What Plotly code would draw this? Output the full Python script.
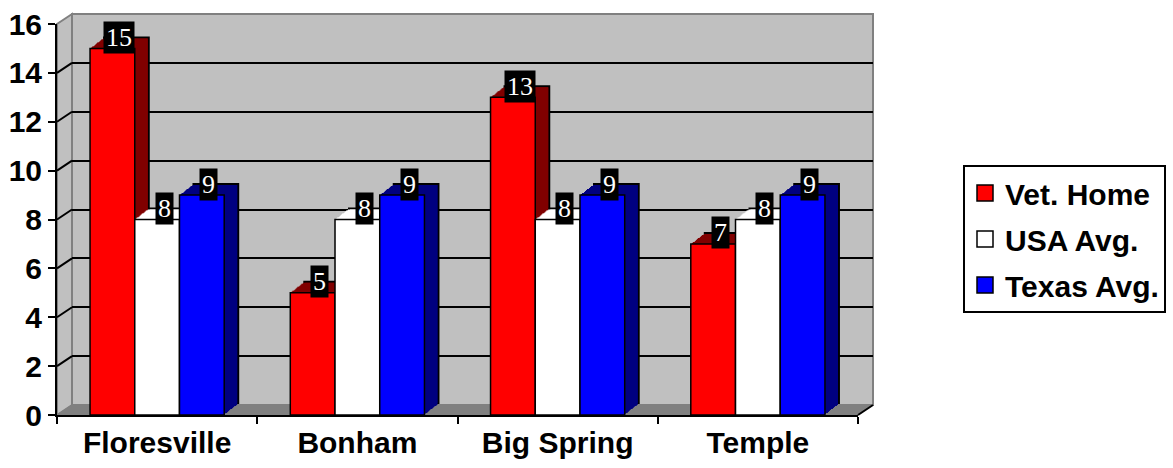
import plotly.graph_objects as go

# ---------------- data ----------------
categories = ["Floresville", "Bonham", "Big Spring", "Temple"]
series_names = ["Vet. Home", "USA Avg.", "Texas Avg."]
vet_home = [15, 5, 13, 7]
usa_avg = [8, 8, 8, 8]
texas_avg = [9, 9, 9, 9]
y_ticks = [0, 2, 4, 6, 8, 10, 12, 14, 16]

series_values = [vet_home, usa_avg, texas_avg]
front_colors = ["#FF0000", "#FFFFFF", "#0000FF"]
side_colors = ["#800000", "#FFFFFF", "#000080"]

# ---------------- geometry (pixels) ----------------
W, H = 1173, 468
L, B = 57, 53                # front plot origin
PW, PH = 801, 391            # front plot size
WALL_DX, WALL_DY = 15, 10    # back wall offset
BAR_DX, BAR_DY = 14, 11      # bar depth
PAPER_W = PW + max(WALL_DX, BAR_DX)
PAPER_H = PH + max(WALL_DY, BAR_DY)
T = H - B - PAPER_H
R = W - L - PAPER_W
BARGAP = 0.33
YMAX = 16

def xdom(ox):
    return [ox / PAPER_W, (ox + PW) / PAPER_W]

def ydom(oy):
    return [oy / PAPER_H, (oy + PH) / PAPER_H]

fig = go.Figure()
layout = {}

# back wall axes (gridlines)
fig.add_trace(go.Scatter(x=[0], y=[0], xaxis="x", yaxis="y", mode="markers",
                         marker=dict(opacity=0), showlegend=False, hoverinfo="skip"))
layout["xaxis"] = dict(domain=xdom(WALL_DX), anchor="y", range=[0, 1], visible=False, fixedrange=True)
layout["yaxis"] = dict(domain=ydom(WALL_DY), anchor="x", range=[0, YMAX], showgrid=True,
                       gridcolor="black", gridwidth=2, tickvals=y_ticks[1:-1],
                       showticklabels=False, ticks="", showline=False, zeroline=False,
                       fixedrange=True)

N = BAR_DX
layers = list(range(N, -1, -1))  # back -> front
axid = 2
front_id = None
for k in layers:
    ox = round(k * BAR_DX / N)
    oy = round(k * BAR_DY / N)
    xa = "x%d" % axid
    ya = "y%d" % axid
    is_front = (k == 0)
    is_back = (k == N)
    for j, (name, vals) in enumerate(zip(series_names, series_values)):
        if is_front:
            color, lw = front_colors[j], 1.5
        elif is_back:
            color, lw = side_colors[j], 2
        else:
            color, lw = side_colors[j], 0
        fig.add_trace(go.Bar(
            x=categories, y=vals, name=name, xaxis=xa, yaxis=ya,
            marker=dict(color=color, line=dict(color="black", width=lw)),
            showlegend=False, hoverinfo="skip" if not is_front else None,
        ))
    xkey = "xaxis%d" % axid
    ykey = "yaxis%d" % axid
    if is_front:
        front_id = axid
        layout[xkey] = dict(domain=xdom(ox), anchor=ya, type="category", range=[-0.5, 3.5],
                            showline=True, linecolor="black", linewidth=2, ticks="outside",
                            tickson="boundaries", ticklen=7, tickwidth=2, tickcolor="black",
                            tickfont=dict(family="Liberation Sans, Arial", size=30,
                                          color="black", weight="bold"),
                            showgrid=False, fixedrange=True)
        layout[ykey] = dict(domain=ydom(oy), anchor=xa, range=[0, YMAX], tickvals=y_ticks,
                            showline=True, linecolor="black", linewidth=2, ticks="outside",
                            ticklen=7, tickwidth=2, tickcolor="black",
                            tickfont=dict(family="Liberation Sans, Arial", size=30,
                                          color="black", weight="bold"),
                            showgrid=False, zeroline=False, fixedrange=True)
    else:
        layout[xkey] = dict(domain=xdom(ox), anchor=ya, type="category", range=[-0.5, 3.5],
                            visible=False, fixedrange=True)
        layout[ykey] = dict(domain=ydom(oy), anchor=xa, range=[0, YMAX], visible=False,
                            fixedrange=True)
    axid += 1

fx, fy = "x%d" % front_id, "y%d" % front_id

# legend entries (square swatches)
for j, name in enumerate(series_names):
    fig.add_trace(go.Scatter(
        x=[None], y=[None], xaxis=fx, yaxis=fy, mode="markers", name=name,
        legendgroup=name,
        marker=dict(symbol="square", size=16, color=front_colors[j],
                    line=dict(color="black", width=1.5)),
        showlegend=True))

# ---------------- decorations: walls and floor ----------------
def px(xpix):
    return (xpix - L) / PAPER_W

def py(ypix_from_bottom):
    return ypix_from_bottom / PAPER_H

unit = PH / YMAX
shapes = []
# back wall
shapes.append(dict(type="rect", xref="paper", yref="paper",
                   x0=px(L + WALL_DX), x1=px(L + WALL_DX + PW), y0=py(WALL_DY), y1=py(WALL_DY + PH),
                   fillcolor="#C0C0C0", line=dict(color="#808080", width=2), layer="below"))
# side wall
shapes.append(dict(type="path", xref="paper", yref="paper",
                   path="M %f %f L %f %f L %f %f L %f %f Z" % (
                       px(L), py(0), px(L), py(PH), px(L + WALL_DX), py(WALL_DY + PH),
                       px(L + WALL_DX), py(WALL_DY)),
                   fillcolor="#C0C0C0", line=dict(color="#808080", width=2), layer="below"))
# floor
shapes.append(dict(type="path", xref="paper", yref="paper",
                   path="M %f %f L %f %f L %f %f L %f %f Z" % (
                       px(L), py(0), px(L + PW), py(0), px(L + WALL_DX + PW), py(WALL_DY),
                       px(L + WALL_DX), py(WALL_DY)),
                   fillcolor="#808080", line=dict(color="#808080", width=1), layer="below"))
# side wall grid diagonals
for v in y_ticks[1:-1]:
    shapes.append(dict(type="line", xref="paper", yref="paper",
                       x0=px(L), y0=py(v * unit), x1=px(L + WALL_DX), y1=py(WALL_DY + v * unit),
                       line=dict(color="black", width=2), layer="below"))
# floor right edge
shapes.append(dict(type="line", xref="paper", yref="paper",
                   x0=px(L + PW), y0=py(0), x1=px(L + WALL_DX + PW), y1=py(WALL_DY),
                   line=dict(color="black", width=2)))

# ---------------- value labels ----------------
bw = (1 - BARGAP) / len(series_names)
annotations = []
for j, vals in enumerate(series_values):
    for i, v in enumerate(vals):
        txt = str(v)
        annotations.append(dict(
            x=i + (j - 1) * bw, y=v, xref=fx, yref=fy, text=txt, showarrow=False,
            xshift=BAR_DX / 2, yshift=BAR_DY,
            font=dict(family="Liberation Serif, Times New Roman", size=26, color="white"),
            bgcolor="black", borderpad=0, height=31, width=13 * len(txt) + 4,
            valign="middle", align="center",
            xanchor="center", yanchor="middle"))

fig.update_layout(
    width=W, height=H,
    margin=dict(l=L, r=R, t=T, b=B, pad=0, autoexpand=False),
    paper_bgcolor="white", plot_bgcolor="rgba(0,0,0,0)",
    barmode="group", bargap=BARGAP, bargroupgap=0,
    shapes=shapes, annotations=annotations,
    legend=dict(x=px(963), y=py(H - B - 165), xanchor="left", yanchor="top",
                bgcolor="white", bordercolor="black", borderwidth=2,
                traceorder="grouped", tracegroupgap=4,
                font=dict(family="Liberation Sans, Arial", size=30, color="black",
                          weight="bold")),
    showlegend=True,
    **layout,
)

fig.write_html("out.html")
